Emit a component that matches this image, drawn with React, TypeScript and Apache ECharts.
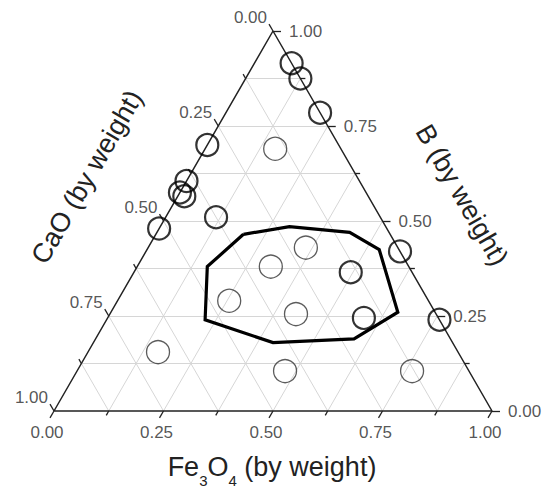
import React, { useEffect, useRef } from "react";
import * as echarts from "echarts";

// Samples drawn with a thick outline: composition [Fe3O4, CaO, B]
const thickFe3O4 = [0.085, 0.125, 0.215, 0.0, 0.0, 0.0, 0.015, 0.115, 0.0, 0.58, 0.495, 0.585, 0.76];
const thickCaO = [0.0, 0.0, 0.0, 0.3, 0.395, 0.425, 0.42, 0.375, 0.52, 0.0, 0.14, 0.17, 0.0];
const thickB = [0.915, 0.875, 0.785, 0.7, 0.605, 0.575, 0.565, 0.51, 0.48, 0.42, 0.365, 0.245, 0.24];

// Samples drawn with a thin outline
const thinFe3O4 = [0.16, 0.36, 0.305, 0.255, 0.425, 0.16, 0.475, 0.765];
const thinCaO = [0.15, 0.21, 0.315, 0.455, 0.32, 0.685, 0.42, 0.13];
const thinB = [0.69, 0.43, 0.38, 0.29, 0.255, 0.155, 0.105, 0.105];

// Outlined region
const regionFe3O4 = [0.2, 0.295, 0.44, 0.53, 0.655, 0.59, 0.41, 0.225, 0.16];
const regionCaO = [0.335, 0.22, 0.09, 0.045, 0.085, 0.22, 0.41, 0.535, 0.46];
const regionB = [0.465, 0.485, 0.47, 0.425, 0.26, 0.19, 0.18, 0.24, 0.38];

// Axis ticks
const majorTicks = [0, 0.25, 0.5, 0.75, 1];
const tickLabels = ["0.00", "0.25", "0.50", "0.75", "1.00"];
const minorTicks = [0.125, 0.375, 0.625, 0.875];
const gridSteps = [0.125, 0.25, 0.375, 0.5, 0.625, 0.75, 0.875];

const H = Math.sqrt(3) / 2;
const PX = 1 / 438; // one pixel in data units
const FONT = "Liberation Sans, Arial, Helvetica, sans-serif";

const toXY = (f: number, c: number, b: number) => [f + b / 2, b * H];

const pts = (fa: number[], ca: number[], ba: number[]) =>
  fa.map((f, i) => toXY(f, ca[i], ba[i]));

export default function App() {
  const ref = useRef<HTMLDivElement>(null);
  useEffect(() => {
    if (!ref.current) return;
    const chart = echarts.init(ref.current, null, { renderer: "svg" });

    // grid lines
    const gridLines: any[] = [];
    gridSteps.forEach((k) => {
      gridLines.push({ coords: [toXY(0, 1 - k, k), toXY(1 - k, 0, k)] }); // B const
      gridLines.push({ coords: [toXY(0, k, 1 - k), toXY(1 - k, k, 0)] }); // CaO const
      gridLines.push({ coords: [toXY(k, 0, 1 - k), toXY(k, 1 - k, 0)] }); // Fe3O4 const
    });

    // ticks
    const ticks: any[] = [];
    const addTicks = (vals: number[], len: number) => {
      vals.forEach((k) => {
        const bb = toXY(k, 1 - k, 0);
        ticks.push({ coords: [bb, [bb[0] - 0.5 * len * PX, bb[1] - H * len * PX]] });
        const lb = toXY(0, k, 1 - k);
        ticks.push({ coords: [lb, [lb[0] - 0.5 * len * PX, lb[1] + H * len * PX]] });
        const rb = toXY(1 - k, 0, k);
        ticks.push({ coords: [rb, [rb[0] + len * PX, rb[1]]] });
      });
    };
    addTicks(majorTicks, 8);
    addTicks(minorTicks, 5);

    const labelStyle = { fontSize: 17, fontFamily: FONT, color: "#2a2a2a" };
    const bottomLabels = majorTicks.map((k, i) => {
      const b = toXY(k, 1 - k, 0);
      return { value: [b[0] - 4 * PX, b[1] - 7 * PX], name: tickLabels[i] };
    });
    const leftLabels = majorTicks.map((k, i) => {
      const b = toXY(0, k, 1 - k);
      return { value: [b[0] - 4 * PX, b[1] + 7 * PX], name: tickLabels[i] };
    });
    const rightLabels = majorTicks.map((k, i) => {
      const b = toXY(1 - k, 0, k);
      return { value: [b[0] + 8 * PX, b[1]], name: tickLabels[i] };
    });
    const labelSeries = (data: any[], position: string, distance: number, offset: number[]) => ({
      type: "scatter",
      data,
      symbolSize: 0,
      silent: true,
      clip: false,
      itemStyle: { color: "rgba(0,0,0,0)" },
      label: { show: true, formatter: "{b}", position, distance, offset, ...labelStyle },
      z: 5,
    });

    const option: any = {
      animation: false,
      grid: { left: 54, top: 31, width: 438, height: 380, containLabel: false },
      xAxis: { type: "value", min: 0, max: 1, show: false },
      yAxis: { type: "value", min: 0, max: H, show: false },
      series: [
        {
          type: "lines",
          coordinateSystem: "cartesian2d",
          data: gridLines,
          silent: true,
          lineStyle: { color: "#d6d6d6", width: 1, opacity: 1 },
          z: 1,
        },
        {
          type: "line",
          data: [toXY(0, 1, 0), toXY(1, 0, 0), toXY(0, 0, 1), toXY(0, 1, 0)],
          symbol: "none",
          silent: true,
          clip: false,
          lineStyle: { color: "#222", width: 1.5 },
          z: 2,
        },
        {
          type: "lines",
          coordinateSystem: "cartesian2d",
          data: ticks,
          silent: true,
          clip: false,
          lineStyle: { color: "#222", width: 1.3, opacity: 1 },
          z: 2,
        },
        {
          type: "line",
          data: [...pts(regionFe3O4, regionCaO, regionB), pts(regionFe3O4, regionCaO, regionB)[0]],
          symbol: "none",
          silent: true,
          lineStyle: { color: "#000", width: 3.2, join: "miter" },
          z: 3,
        },
        {
          type: "scatter",
          data: pts(thinFe3O4, thinCaO, thinB),
          symbol: "circle",
          symbolSize: 23,
          clip: false,
          itemStyle: { color: "rgba(0,0,0,0)", borderColor: "#333", borderWidth: 1.3 },
          z: 4,
        },
        {
          type: "scatter",
          data: pts(thickFe3O4, thickCaO, thickB),
          symbol: "circle",
          symbolSize: 22,
          clip: false,
          itemStyle: { color: "rgba(0,0,0,0)", borderColor: "#000", borderWidth: 2.2 },
          z: 4,
        },
        labelSeries(bottomLabels, "bottom", 6, [-3, 0]),
        labelSeries(leftLabels, "left", 2, [0, -6]),
        labelSeries(rightLabels, "right", 8, [0, 0]),
      ],
      graphic: [
        {
          type: "text",
          x: 87,
          y: 177,
          rotation: Math.PI / 3,
          style: {
            text: "CaO (by weight)",
            fontSize: 27,
            fontFamily: FONT,
            fill: "#222",
            align: "center",
            verticalAlign: "middle",
            textAlign: "center",
            textVerticalAlign: "middle",
          },
        },
        {
          type: "text",
          x: 462,
          y: 195,
          rotation: -Math.PI / 3,
          style: {
            text: "B (by weight)",
            fontSize: 27,
            fontFamily: FONT,
            fill: "#222",
            align: "center",
            verticalAlign: "middle",
            textAlign: "center",
            textVerticalAlign: "middle",
          },
        },
        {
          type: "text",
          x: 272,
          y: 467,
          style: {
            text: "{m|Fe}{s|3}{m|O}{s|4}{m| (by weight)}",
            align: "center",
            verticalAlign: "middle",
            textAlign: "center",
            textVerticalAlign: "middle",
            fill: "#222",
            rich: {
              m: { fontSize: 27, fontFamily: FONT, fill: "#222", color: "#222" },
              s: { fontSize: 15, fontFamily: FONT, fill: "#222", color: "#222", padding: [27, 0, 0, 0] },
            },
          },
        },
      ],
    };
    chart.setOption(option);
    return () => chart.dispose();
  }, []);
  return (
    <div
      ref={ref}
      style={{ position: "absolute", left: 0, top: 0, width: 545, height: 490, background: "#fff" }}
    />
  );
}
